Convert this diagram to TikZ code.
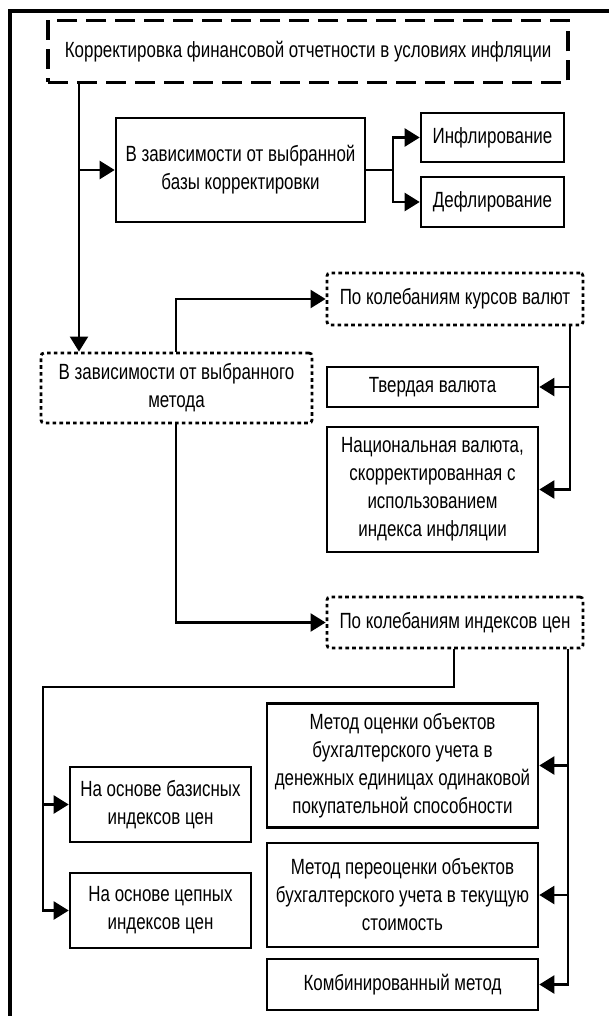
\documentclass[tikz,border=0pt]{standalone}
\usepackage{fontspec}
\setmainfont{Liberation Sans}[FakeStretch=0.77]
\usetikzlibrary{arrows.meta}

\begin{document}
\begin{tikzpicture}[x=0.5pt,y=-0.5pt,
    font=\fontsize{11}{14}\selectfont,
    box/.style={draw,line width=1.3pt,align=center,inner sep=0pt},
    dbox/.style={box,line width=1.4pt,dash pattern=on 1.8pt off 1.6pt,rounded corners=1.5pt},
    arr/.style={line width=1.1pt,-{Triangle[length=7.5pt,width=9pt]}}]
\useasboundingbox (0,0) rectangle (609,1016);
% frame
\draw[line width=2pt] (10,1016) -- (10,11) -- (609,11);

\node[box,line width=1.6pt,dash pattern=on 10pt off 4.5pt,minimum width=260pt,minimum height=31pt] (top) at (308,51.5) {Корректировка финансовой отчетности в условиях инфляции};

\node[box,minimum width=124.5pt,minimum height=52pt] (basa) at (240.5,170) {В зависимости от выбранной\\базы корректировки};
\node[box,minimum width=71.5pt,minimum height=24.5pt] (infl) at (492.5,137.5) {Инфлирование};
\node[box,minimum width=71.5pt,minimum height=25pt] (defl) at (492.5,202) {Дефлирование};

\node[dbox,minimum width=135.5pt,minimum height=35pt] (metod) at (176.5,388) {В зависимости от выбранного\\метода};
\node[dbox,minimum width=128pt,minimum height=26pt] (kurs) at (455,299) {По колебаниям курсов валют};
\node[box,minimum width=105.5pt,minimum height=20pt] (tverd) at (432.5,387) {Твердая валюта};
\node[box,minimum width=105.5pt,minimum height=62.5pt] (nac) at (432.5,489.5) {Национальная валюта,\\скорректированная с\\использованием\\индекса инфляции};

\node[dbox,minimum width=128pt,minimum height=25.5pt] (indeks) at (455,622.5) {По колебаниям индексов цен};
\node[box,minimum width=135.5pt,minimum height=62pt] (ocenka) at (402.5,765.5) {Метод оценки объектов\\бухгалтерского учета в\\денежных единицах одинаковой\\покупательной способности};
\node[box,minimum width=135.5pt,minimum height=52pt] (pereoc) at (402.5,895) {Метод переоценки объектов\\бухгалтерского учета в текущую\\стоимость};
\node[box,minimum width=135.5pt,minimum height=25.5pt] (komb) at (402.5,984.5) {Комбинированный метод};
\node[box,minimum width=90.5pt,minimum height=37.5pt] (bazis) at (160.5,804.5) {На основе базисных\\индексов цен};
\node[box,minimum width=90.5pt,minimum height=37.5pt] (cepn) at (160.5,910.5) {На основе цепных\\индексов цен};

% line columns
\coordinate (trunk) at (79,0);
\coordinate (mcol) at (176,0);
\coordinate (kcol) at (570,0);
\coordinate (icol) at (568,0);
\coordinate (bcol) at (454,0);
\coordinate (bend) at (43,687);

\draw[arr] (top.south -| trunk) -- (trunk |- metod.north);
\draw[arr] (trunk |- basa.west) -- (basa.west);
\draw[arr] (basa.east) -- ++(27,0) |- (infl.west);
\draw[arr] (basa.east) -- ++(27,0) |- (defl.west);

\draw[arr] (mcol |- metod.north) |- (kurs.west);
\draw[arr] (mcol |- metod.south) |- (indeks.west);
\draw[arr] (kcol |- kurs.south) |- (tverd.east);
\draw[arr] (kcol |- kurs.south) |- (nac.east);

\draw[arr] (icol |- indeks.south) |- (ocenka.east);
\draw[arr] (icol |- indeks.south) |- (pereoc.east);
\draw[arr] (icol |- indeks.south) |- (komb.east);
\draw[arr] (bcol |- indeks.south) |- (bend) |- (bazis.west);
\draw[arr] (bend) |- (cepn.west);
\end{tikzpicture}
\end{document}
